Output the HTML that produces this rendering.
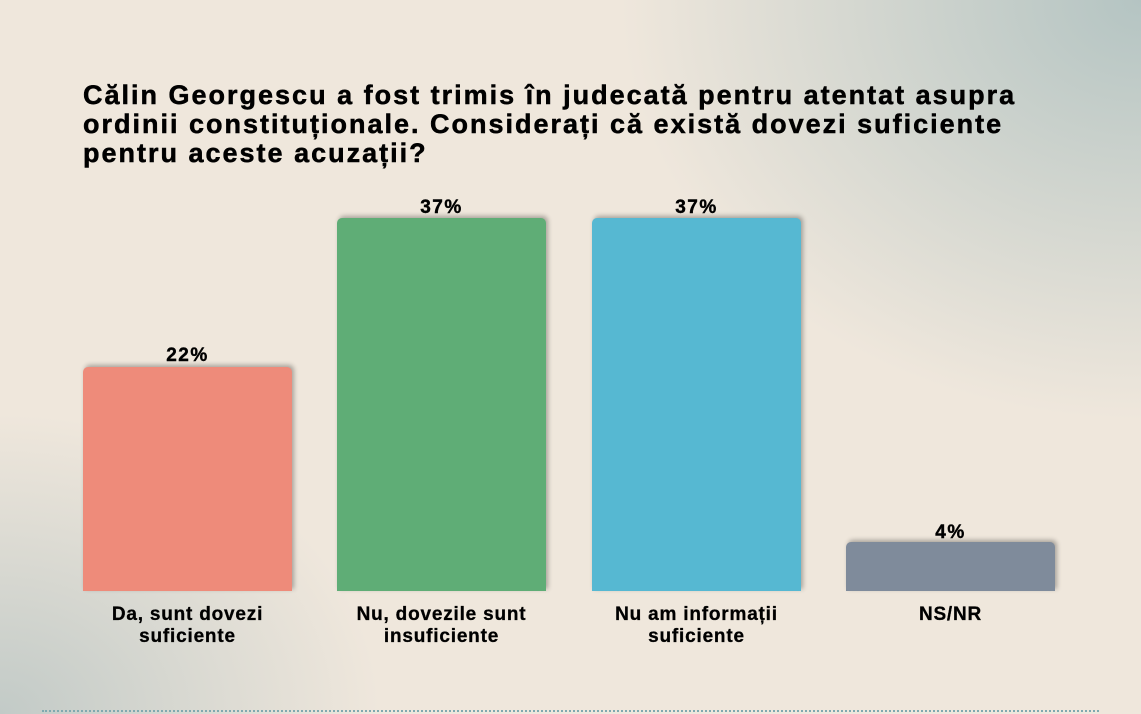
<!DOCTYPE html>
<html><head><meta charset="utf-8"><style>
body{margin:0;width:1141px;height:714px;overflow:hidden;position:relative;font-family:"Liberation Sans",sans-serif;
background:
radial-gradient(ellipse 520px 420px at 1141px 0px, rgba(170,190,190,0.85), rgba(170,190,190,0) 100%),
radial-gradient(ellipse 380px 300px at 0px 714px, rgba(175,190,190,0.7), rgba(175,190,190,0) 100%),
#efe7dc;}
.t{position:absolute;left:83px;top:81px;font-weight:bold;font-size:27px;line-height:29px;color:#000;letter-spacing:2px;white-space:nowrap;-webkit-text-stroke:0.5px #000}
.bar{position:absolute;width:209px;border-radius:5px 5px 0 0;bottom:123px;box-shadow:2px -2px 5px rgba(0,0,0,0.3)}
.v{position:absolute;width:209px;text-align:center;font-weight:bold;font-size:19px;letter-spacing:1.5px;-webkit-text-stroke:0.4px #000}
.l{position:absolute;width:209px;text-align:center;font-weight:bold;font-size:19px;line-height:22px;top:604px;letter-spacing:0.8px;white-space:nowrap;-webkit-text-stroke:0.3px #000}
.dot{position:absolute;left:42px;right:42px;top:710px;border-top:2px dotted #7fa9b0}
</style></head><body>
<div class="t">Călin Georgescu a fost trimis în judecată pentru atentat asupra<br>ordinii constituționale. Considerați că există dovezi suficiente<br>pentru aceste acuzații?</div>
<div class="bar" style="left:83px;top:367px;background:#ee8b7a"></div>
<div class="bar" style="left:337px;top:218px;background:#5fad76"></div>
<div class="bar" style="left:592px;top:218px;background:#56b8d2"></div>
<div class="bar" style="left:846px;top:542px;background:#7f8b9b"></div>
<div class="v" style="left:83px;top:345px">22%</div>
<div class="v" style="left:337px;top:197px">37%</div>
<div class="v" style="left:592px;top:197px">37%</div>
<div class="v" style="left:846px;top:522px">4%</div>
<div class="l" style="left:83px">Da, sunt dovezi<br>suficiente</div>
<div class="l" style="left:337px">Nu, dovezile sunt<br>insuficiente</div>
<div class="l" style="left:592px">Nu am informații<br>suficiente</div>
<div class="l" style="left:846px">NS/NR</div>
<div class="dot"></div>
</body></html>
